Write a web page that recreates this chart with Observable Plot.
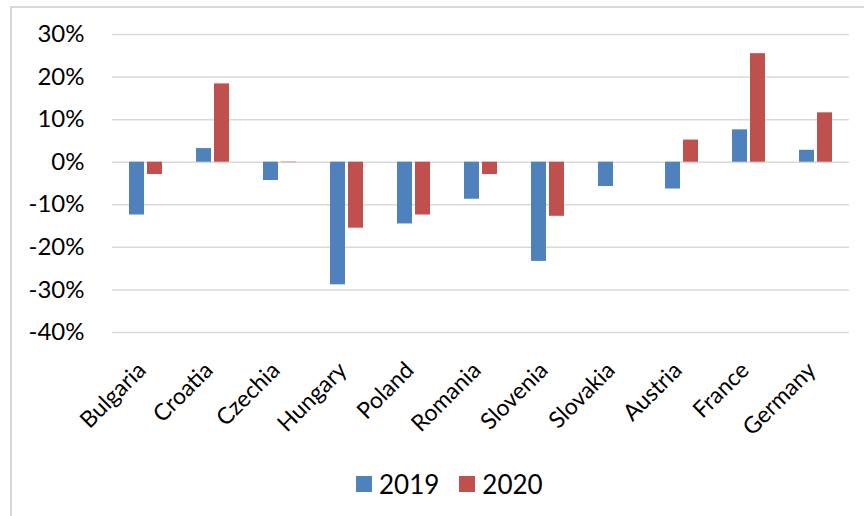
<!DOCTYPE html>
<html>
<head>
<meta charset="utf-8">
<script src="https://cdn.jsdelivr.net/npm/d3@7"></script>
<script src="https://cdn.jsdelivr.net/npm/@observablehq/plot@0.6"></script>
<style>
  html, body { margin: 0; padding: 0; background: #fff; overflow: hidden; }
  body { width: 864px; height: 516px; position: relative; font-family: Lato, "Open Sans", sans-serif; }
  #chart { position: absolute; left: 0; top: 0; }
  #frame { position: absolute; left: 10px; top: 6px; width: 900px; height: 560px; border: 2px solid #d9d9d9; box-sizing: border-box; pointer-events: none; }
  #legend { position: absolute; left: 356px; top: 468px; display: flex; align-items: center; font-size: 26px; color: #000; }
  #legend .item { display: flex; align-items: center; margin-right: 20px; }
  #legend .swatch { width: 16px; height: 16px; margin-right: 7px; }
</style>
</head>
<body>
<div id="chart"></div>
<div id="legend"></div>
<div id="frame"></div>
<script>
// Annual change by country, in percent
const countries = ["Bulgaria", "Croatia", "Czechia", "Hungary", "Poland", "Romania", "Slovenia", "Slovakia", "Austria", "France", "Germany"];
const years = ["2019", "2020"];
const values2019 = [-12.4, 3.2, -4.3, -28.8, -14.5, -8.7, -23.3, -5.7, -6.3, 7.6, 2.8];
const values2020 = [-2.9, 18.4, -0.1, -15.5, -12.4, -2.9, -12.7, null, 5.2, 25.5, 11.6];
const yTicks = [-40, -30, -20, -10, 0, 10, 20, 30];
const colors = ["#4f81bd", "#c0504d"];

const data = [];
countries.forEach((c, i) => {
  data.push({country: c, year: years[0], value: values2019[i]});
  data.push({country: c, year: years[1], value: values2020[i]});
});

const chart = Plot.plot({
  width: 864,
  height: 440,
  marginLeft: 110,
  marginRight: 14,
  marginTop: 34,
  marginBottom: 108,
  style: {fontFamily: "Lato, 'Open Sans', sans-serif", background: "transparent", color: "#000"},
  fx: {domain: countries, padding: 0, label: null, axis: null},
  x: {domain: years, paddingInner: 0.158, paddingOuter: 0.85, axis: null},
  y: {domain: [-40, 30], axis: null},
  color: {domain: years, range: colors},
  marks: [
    Plot.gridY(yTicks, {stroke: "#d9d9d9", strokeOpacity: 1, strokeWidth: 1.5}),
    Plot.barY(data.filter(d => d.value != null), {
      fx: "country", x: "year", y: "value", fill: "year", insetLeft: 0, insetRight: 0
    }),
    Plot.axisY({
      ticks: yTicks, tickFormat: d => `${d}%`, tickSize: 0, tickPadding: 28,
      fontSize: 24, label: null
    }),
    Plot.axisFx({
      anchor: "bottom", tickRotate: -45, tickSize: 0, tickPadding: 34, dx: -4,
      fontSize: 23, label: null
    })
  ]
});
document.getElementById("chart").appendChild(chart);

// Legend
const legend = document.getElementById("legend");
years.forEach((y, i) => {
  const item = document.createElement("div");
  item.className = "item";
  const sw = document.createElement("div");
  sw.className = "swatch";
  sw.style.background = colors[i];
  const label = document.createElement("span");
  label.textContent = y;
  item.appendChild(sw);
  item.appendChild(label);
  legend.appendChild(item);
});
</script>
</body>
</html>
